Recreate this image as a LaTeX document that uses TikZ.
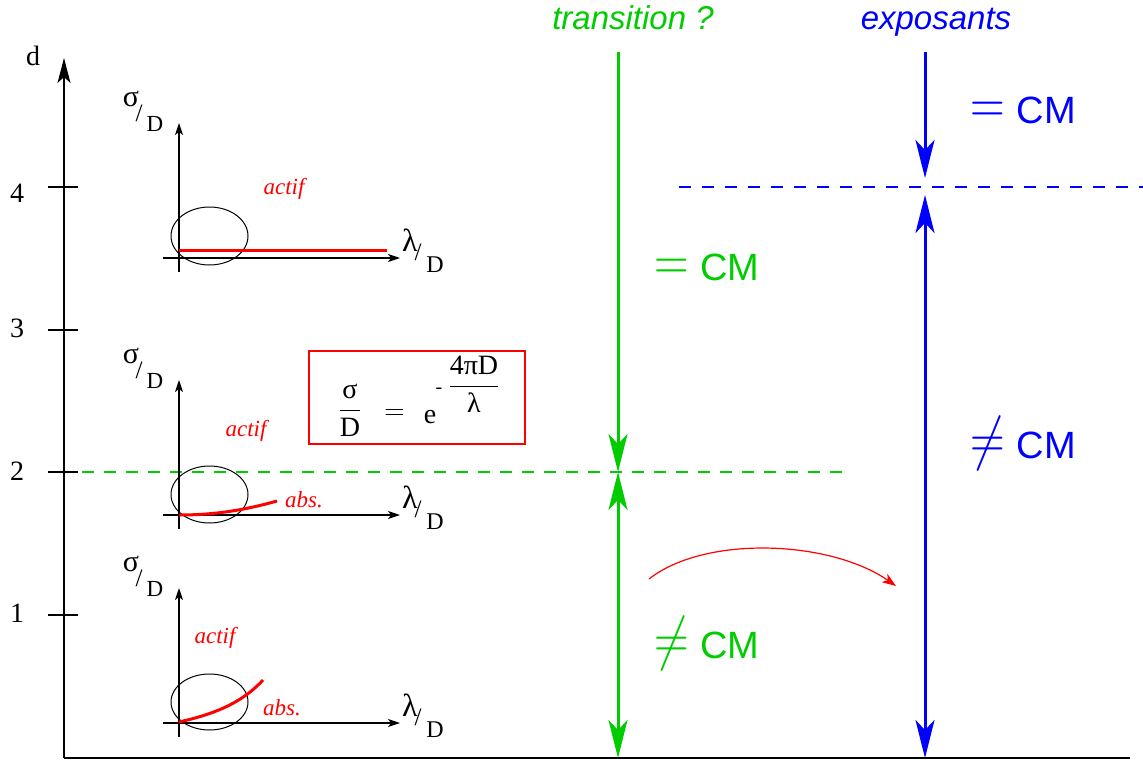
\RequirePackage{fix-cm}
\documentclass[tikz,border=0pt]{standalone}
\usepackage[no-math]{fontspec}
\setmainfont{Liberation Serif}
\setsansfont{Liberation Sans}
\usepackage{graphicx}
\usetikzlibrary{arrows.meta}
\definecolor{ggreen}{RGB}{0,204,0}
\newcommand\fs[1]{\fontsize{#1}{#1}\selectfont}
\newcommand\eqsym{\scalebox{0.8}[1]{\fs{60}$=$}}
\newcommand\neqsym{\scalebox{0.8}[1]{\fs{60}$\neq$}}
\begin{document}
\begin{tikzpicture}[x=1pt,y=-1pt,
  ax/.style={line width=1.3pt, black},
  mainarr/.style={-{Stealth[length=25pt,width=13pt,inset=6pt]}},
  smallarr/.style={-{Stealth[length=12pt,width=8pt,inset=3pt]}},
  gline/.style={ggreen, line width=3pt},
  bline/.style={blue, line width=3pt},
  rcurve/.style={red, line width=3pt},
  ell/.style={line width=1pt},
  txt/.style={inner sep=0pt, outer sep=0pt},
  num/.style={txt, anchor=base, font=\fs{28}},
  sig/.style={txt, font=\fs{30}},
  sla/.style={txt, font=\fs{25}},
  dd/.style={txt, font=\fs{23}},
  lam/.style={txt, font=\fs{32}},
  ddl/.style={txt, font=\fs{24}},
  redit/.style={txt, anchor=base, red, font=\fs{23}\itshape},
  cmlbl/.style={txt, anchor=base west, font=\fs{38}\sffamily},
  head/.style={txt, anchor=base, font=\fs{33}\sffamily\itshape},
  eqf/.style={txt, anchor=base, font=\fs{28}},
  gdash/.style={ggreen, line width=1.3pt, dash pattern=on 12pt off 10pt},
  bdash/.style={blue, line width=1.3pt, dash pattern=on 12pt off 11pt},
]
\tikzset{bigtip/.tip={Stealth[length=38pt,width=19pt,inset=10pt]}}
\useasboundingbox (0,0) rectangle (1143,760);

% main axes
\coordinate (orig) at (64,758);
\coordinate (dtop) at (64,58);
\coordinate (xend) at (1130,758);
\draw[ax, mainarr] (orig) -- (dtop);
\draw[ax] (orig) -- (xend);
\node[num] (dlbl) at (33,66) {d};
\foreach \v/\yy/\by in {4/187/202, 3/330/337, 2/472/480, 1/615/622}{
  \draw[ax] (48,\yy) -- (78,\yy);
  \node[num] (tick\v) at (17,\by) {\v};
}

% dashed levels
\coordinate (gdl) at (82,472);
\coordinate (gdr) at (843,472);
\draw[gdash] (gdl) -- (gdr);
\coordinate (bdl) at (679,187);
\coordinate (bdr) at (1143,187);
\draw[bdash] (bdl) -- (bdr);

% small plots
\foreach \k/\ay/\ty in {1/258/123, 2/515/380, 3/723/588}{
  \draw[ax, line width=1.2pt, smallarr] (179,\ay+14) -- (179,\ty);
  \draw[ax, line width=1.2pt, smallarr] (163,\ay) -- (400,\ay);
  \node[sig] (sg\k) at (131,\ty-24) {σ};
  \node[sla] (ss\k) at (139,\ty-10) {/};
  \node[dd]  (sd\k) at (155,\ty+1) {D};
  \node[lam] (lg\k) at (410,\ay-18) {λ};
  \node[sla] (ls\k) at (418,\ay-6) {/};
  \node[ddl] (ld\k) at (435,\ay+7) {D};
}
\draw[ell] (209.5,236) ellipse [x radius=38.5, y radius=29];
\draw[ell] (209.5,494.5) ellipse [x radius=38.5, y radius=28.5];
\draw[ell] (209.5,702) ellipse [x radius=38.5, y radius=28];

\draw[rcurve] (179,250) -- (387,250);
\draw[rcurve] (179,515) .. controls (215,515) and (245,510) .. (277,501);
\draw[rcurve] (179,722) .. controls (210,715) and (240,705) .. (263,680);

\node[redit] (act1) at (284,194) {actif};
\node[redit] (act2) at (246,436) {actif};
\node[redit] (act3) at (215,643) {actif};
\node[redit] (abs2) at (304,507) {abs.};
\node[redit] (abs3) at (282,715) {abs.};

% formula box
\draw[red, line width=1.5pt] (309,351) rectangle (525,444);
\node[eqf] (eqL) at (350,417) {$\displaystyle\frac{\mbox{σ}}{\mbox{D}}$};
\node[eqf] (eqEq) at (394.5,419) {$=$};
\node[eqf] (eqE) at (430,423) {e};
\node[eqf, font=\fs{20}] (eqM) at (439,393) {-};
\node[eqf] (eqR) at (474,393) {$\displaystyle\frac{\mbox{4πD}}{\mbox{λ}}$};

% green column
\node[head, ggreen] (trans) at (633,30) {transition ?};
\coordinate (gtop) at (618,52);
\coordinate (gmid) at (618,472);
\coordinate (gbot) at (618,758);
\draw[gline, -bigtip] (gtop) -- (gmid);
\draw[gline, bigtip-bigtip] (gmid) -- (gbot);
\node[cmlbl, ggreen] (geq) at (654,280) {\eqsym\hspace{12pt}CM};
\node[cmlbl, ggreen] (gneq) at (654,658) {\neqsym\hspace{12pt}CM};

% blue column
\node[head, blue] (expo) at (936,30) {exposants};
\coordinate (btop) at (925,52);
\coordinate (bm1) at (925,178);
\coordinate (bm2) at (925,195);
\coordinate (bbot) at (925,758);
\draw[bline, -bigtip] (btop) -- (bm1);
\draw[bline, bigtip-bigtip] (bm2) -- (bbot);
\node[cmlbl, blue] (beq) at (970,123) {\eqsym\hspace{12pt}CM};
\node[cmlbl, blue] (bneq) at (970,458) {\neqsym\hspace{12pt}CM};

% red arrow
\coordinate (ra) at (649,579);
\coordinate (rb) at (896,586);
\draw[red, line width=1.2pt, -{Stealth[length=14pt,width=10pt,inset=4pt]}] (ra) .. controls (705,535) and (830,540) .. (rb);
\end{tikzpicture}
\end{document}
